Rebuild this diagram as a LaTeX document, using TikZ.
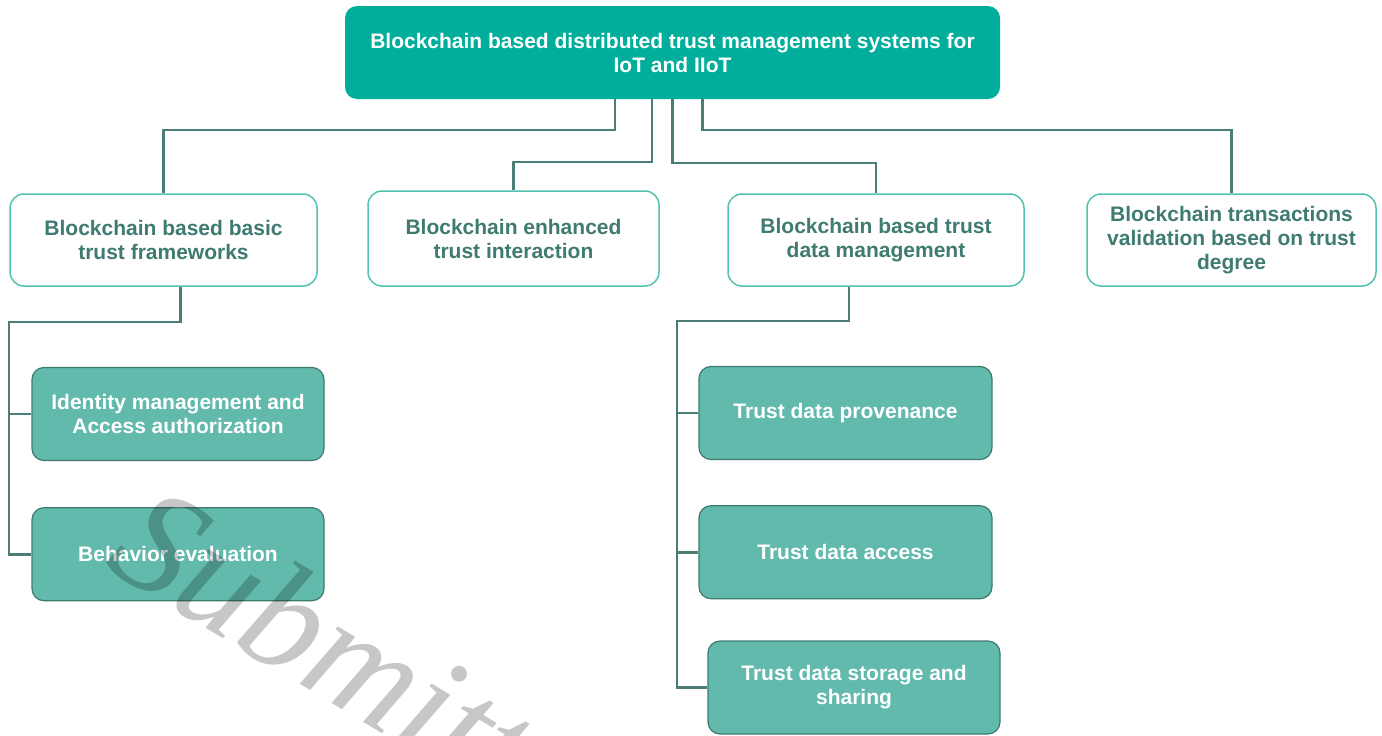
\documentclass[tikz,border=0pt]{standalone}
\usepackage{fontspec}
\newfontfamily\boxfont{Liberation Sans}
\newfontfamily\stampfont{Liberation Serif}
\usetikzlibrary{positioning}
\definecolor{rootfill}{HTML}{00AE9B}
\definecolor{midline}{HTML}{52C3B1}
\definecolor{midtext}{HTML}{3F7B71}
\definecolor{leaffill}{HTML}{62BAAC}
\definecolor{leafline}{HTML}{3E7A70}
\definecolor{wire}{HTML}{4C7E78}

\begin{document}
\begin{tikzpicture}
        [x=1pt, y=-1pt,
        every node/.style={rectangle, rounded corners=12pt, align=center,
        inner sep=0pt, font=\boxfont\bfseries\fontsize{21}{24}\selectfont},
        rootbox/.style={fill=rootfill, text=white,
        minimum width=655pt, minimum height=93pt},
        midbox/.style={draw=midline, line width=1.5pt, fill=white, text=midtext,
        rounded corners=14pt, minimum height=92pt},
        leafbox/.style={draw=leafline, line width=1.2pt, fill=leaffill, text=white,
        minimum width=292pt, minimum height=93pt},
        wired/.style={draw=wire, line width=2.6pt},
        wmark/.style={text=black, text opacity=0.22, inner sep=0pt,
        font=\stampfont\itshape\fontsize{150}{150}\selectfont}]
        \useasboundingbox (0,0) rectangle (1382,736);
        \clip (0,0) rectangle (1382,736);

        % tree, top to bottom
        \node[rootbox] (root) at (672.5,52.5)
            {Blockchain based distributed trust management systems for\\IoT and IIoT};
        \node[midbox, minimum width=307pt] (basic) at (163.5,240)
            {Blockchain based basic\\trust frameworks};
        \node[midbox, minimum width=291pt, minimum height=95pt] (inter) at (513.5,238.5)
            {Blockchain enhanced\\trust interaction};
        \node[midbox, minimum width=296pt] (tdm) at (876,240)
            {Blockchain based trust\\data management};
        \node[midbox, minimum width=289pt] (valid) at (1231.5,240)
            {Blockchain transactions\\validation based on trust\\degree};

        \node[leafbox] (idm) at (178,414)
            {Identity management and\\Access authorization};
        \node[leafbox, below=46pt of idm] (behav) {Behavior evaluation};

        \node[leafbox, minimum width=293pt] (prov) at (845.5,413) {Trust data provenance};
        \node[leafbox, minimum width=293pt, below=45pt of prov] (access) {Trust data access};
        \node[leafbox, minimum width=292pt] (share) at (854,687.5)
            {Trust data storage and\\sharing};

        % connectors
        \draw[wired] ([xshift=-57.5pt]root.south) |- (163.5,130) -- (basic.north);
        \draw[wired] ([xshift=-20.5pt]root.south) |- (513.5,162) -- (inter.north);
        \draw[wired] ([xshift=0pt]root.south) |- (876,163) -- (tdm.north);
        \draw[wired] ([xshift=30pt]root.south) |- (1231.5,130) -- (valid.north);

        \coordinate (lrail) at (9,322);
        \draw[wired] ([xshift=17pt]basic.south) |- (lrail) |- (behav.west);
        \draw[wired] (lrail) |- (idm.west);

        \coordinate (rrail) at (677,321);
        \draw[wired] ([xshift=-27pt]tdm.south) |- (rrail) |- (share.west);
        \draw[wired] (rrail) |- (prov.west);
        \draw[wired] (rrail) |- (access.west);

        % stamp over the figure
        \node[wmark, rotate=-31, anchor=base west] (stamp) at (102,566) {Submitted};
\end{tikzpicture}
\end{document}
